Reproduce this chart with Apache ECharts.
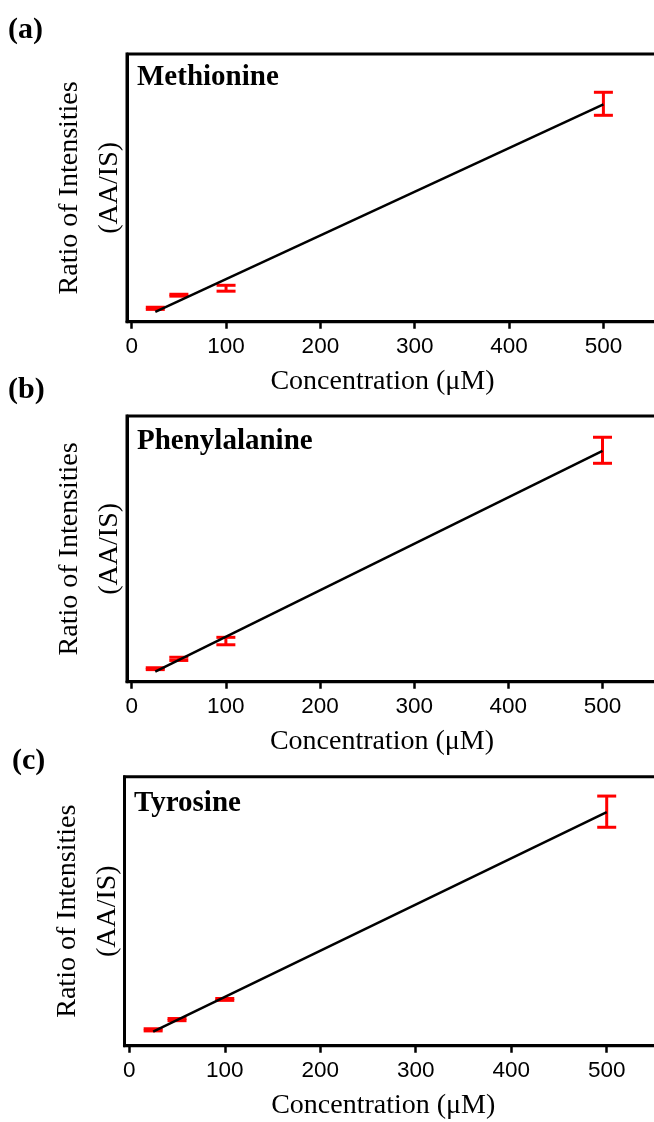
<!DOCTYPE html>
<html>
<head>
<meta charset="utf-8">
<style>
  html, body { margin: 0; padding: 0; background: #ffffff; }
  #chart { width: 654px; height: 1122px; }
</style>
<script src="https://cdn.jsdelivr.net/npm/echarts@6/dist/echarts.min.js"></script>
</head>
<body>
<div id="chart"></div>
<script>
// ---- data (y in arbitrary ratio units, axis is unlabeled) ----
var concentrations = [25, 50, 100, 500];
var xTickValues = [0, 100, 200, 300, 400, 500];
var fitX = [25, 500];

var methionineMean = [5.0, 9.9, 12.5, 81.4];
var methionineErr  = [0.4, 0.35, 1.1, 4.3];
var methionineFit  = [3.7, 81.2];

var phenylalanineMean = [4.9, 8.6, 15.3, 87.1];
var phenylalanineErr  = [0.35, 0.6, 1.4, 4.9];
var phenylalanineFit  = [3.8, 86.9];

var tyrosineMean = [5.9, 9.7, 17.2, 87.0];
var tyrosineErr  = [0.4, 0.4, 0.35, 5.8];
var tyrosineFit  = [5.2, 86.8];

var panelLabels = ['(a)', '(b)', '(c)'];
var compoundNames = ['Methionine', 'Phenylalanine', 'Tyrosine'];
var xTitle = 'Concentration (\u03BCM)';
var yTitle = 'Ratio of Intensities\n(AA/IS)';

// ---- layout ----
var SERIF = '"Liberation Serif", "Times New Roman", Times, serif';
var SANS = '"Liberation Sans", Arial, Helvetica, sans-serif';
var grids = [
  { left: 127, top: 54,    width: 533, height: 267.7 },
  { left: 127, top: 416,   width: 532, height: 265.7 },
  { left: 124.5, top: 776.7, width: 539.5, height: 269 }
];
var panels = [
  { mean: methionineMean, err: methionineErr, fit: methionineFit },
  { mean: phenylalanineMean, err: phenylalanineErr, fit: phenylalanineFit },
  { mean: tyrosineMean, err: tyrosineErr, fit: tyrosineFit }
];
var labelPos = [ [8, 15], [8, 375], [12, 746] ];
var namePos  = [ [137, 63], [137, 427], [134, 789] ];

var chart = echarts.init(document.getElementById('chart'), null, { renderer: 'canvas' });

var option = {
  animation: false,
  backgroundColor: '#ffffff',
  grid: [], xAxis: [], yAxis: [], series: [], graphic: []
};

function errRender(params, api) {
  var x = api.value(0), m = api.value(1), e = api.value(2);
  var hi = api.coord([x, m + e]);
  var lo = api.coord([x, m - e]);
  var hw = 9.5;
  var st = { stroke: '#ff0000', lineWidth: 3, fill: null };
  return {
    type: 'group',
    children: [
      { type: 'line', shape: { x1: hi[0], y1: hi[1], x2: lo[0], y2: lo[1] }, style: st },
      { type: 'line', shape: { x1: hi[0] - hw, y1: hi[1], x2: hi[0] + hw, y2: hi[1] }, style: st },
      { type: 'line', shape: { x1: lo[0] - hw, y1: lo[1], x2: lo[0] + hw, y2: lo[1] }, style: st }
    ]
  };
}

for (var i = 0; i < 3; i++) {
  var g = grids[i];
  option.grid.push({
    left: g.left, top: g.top, width: g.width, height: g.height,
    show: true, borderColor: '#000', borderWidth: 3, backgroundColor: 'transparent',
    containLabel: false, outerBoundsMode: 'none'
  });
  option.xAxis.push({
    type: 'value', gridIndex: i, min: -5, max: 560,
    name: xTitle, nameLocation: 'middle', nameGap: 46,
    nameTextStyle: { fontFamily: SERIF, fontSize: 28, color: '#000', padding: [0, 22, 0, 0] },
    axisLine: { show: true, onZero: false, lineStyle: { color: '#000', width: 3 } },
    axisTick: { show: true, inside: false, length: 7, customValues: xTickValues, lineStyle: { color: '#000', width: 2.5 } },
    axisLabel: { show: true, margin: 14, customValues: xTickValues, fontFamily: SANS, fontSize: 22.5, color: '#000' },
    splitLine: { show: false }
  });
  option.yAxis.push({
    type: 'value', gridIndex: i, min: 0, max: 100,
    name: yTitle, nameLocation: 'middle', nameGap: -3, nameRotate: 90,
    nameTextStyle: { fontFamily: SERIF, fontSize: 28, lineHeight: 40, color: '#000', align: 'center' },
    axisLine: { show: true, onZero: false, lineStyle: { color: '#000', width: 3 } },
    axisTick: { show: false },
    axisLabel: { show: false },
    splitLine: { show: false }
  });
  var p = panels[i];
  var errData = concentrations.map(function (c, k) { return [c, p.mean[k], p.err[k]]; });
  option.series.push({
    type: 'custom', name: compoundNames[i] + ' error', xAxisIndex: i, yAxisIndex: i,
    renderItem: errRender, data: errData, z: 2, clip: false,
    encode: { x: 0, y: 1 }
  });
  option.series.push({
    type: 'line', name: compoundNames[i] + ' fit', xAxisIndex: i, yAxisIndex: i,
    data: fitX.map(function (x, k) { return [x, p.fit[k]]; }),
    showSymbol: false, symbol: 'none',
    lineStyle: { color: '#000', width: 2.5 }, z: 3
  });
  option.graphic.push({
    type: 'text', left: labelPos[i][0], top: labelPos[i][1],
    style: { text: panelLabels[i], font: 'bold 30px ' + SERIF, fill: '#000' }
  });
  option.graphic.push({
    type: 'text', left: namePos[i][0], top: namePos[i][1],
    style: { text: compoundNames[i], font: 'bold 29px ' + SERIF, fill: '#000' }
  });
}

chart.setOption(option);
</script>
</body>
</html>
